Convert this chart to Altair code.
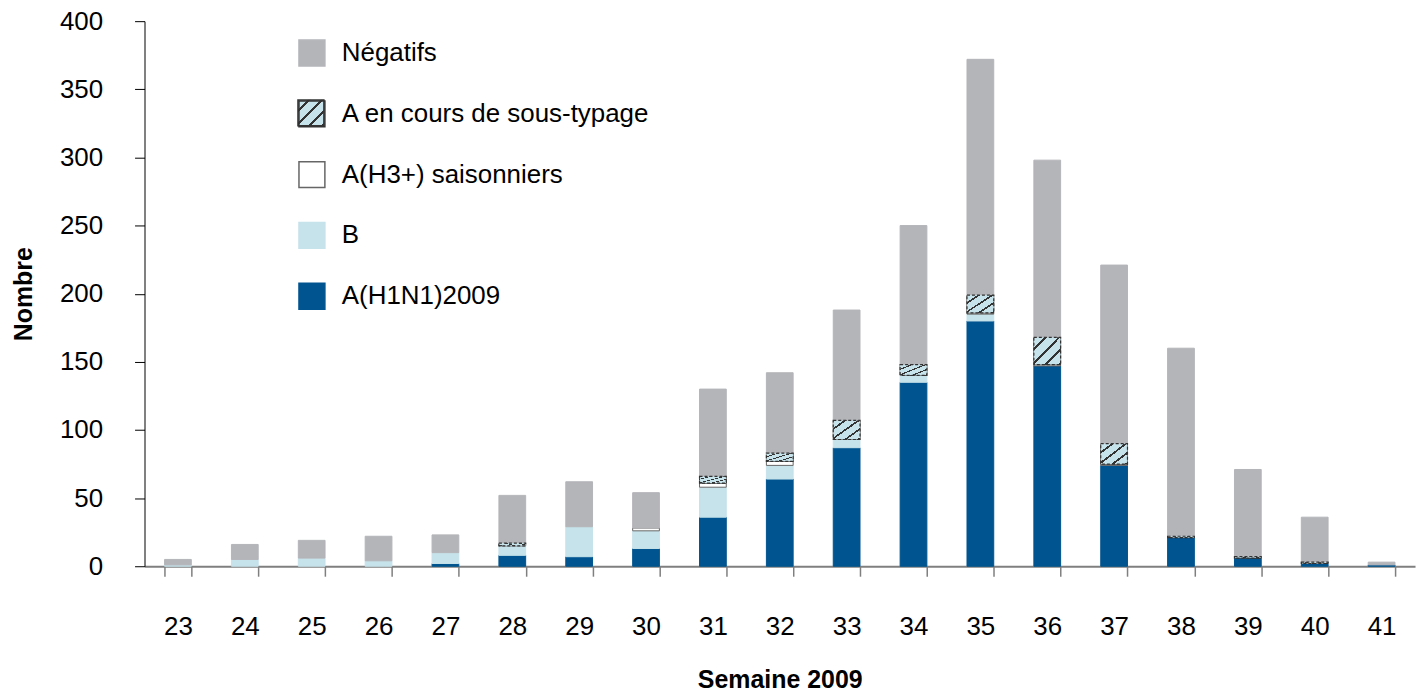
import altair as alt
import pandas as pd

# ---- data ----
weeks = [str(w) for w in range(23, 42)]
h1n1 = [0, 0, 0, 0, 2, 8, 7, 13, 36, 64, 87, 135, 180, 147, 74, 21, 6, 2, 1]
b_vals = [1, 5, 6, 4, 8, 7, 22, 13, 22, 10, 6, 5, 5, 0, 0, 0, 0, 0, 0]
h3 = [0, 0, 0, 0, 0, 0, 0, 2, 3, 3, 0, 0, 1, 1, 1, 0, 0, 0, 0]
sous_typage = [0, 0, 0, 0, 0, 2, 0, 0, 5, 6, 14, 8, 13, 20, 15, 1, 1, 1, 0]
negatifs = [4, 11, 13, 18, 13, 35, 33, 26, 64, 59, 81, 102, 173, 130, 131, 138, 64, 33, 2]

cats = ["Négatifs", "A en cours de sous-typage", "A(H3+) saisonniers", "B", "A(H1N1)2009"]

GREY = "#b4b5b9"
LB = "#c6e2ea"
DB = "#00548f"
DK = "#333333"
# hatched category: transparent in the base layer (hatch drawn by its own layer)
fills = [GREY, "rgba(0,0,0,0)", "#ffffff", LB, DB]
strokes = [GREY, DK, "#666666", LB, DB]
FONT = "Liberation Sans"

# stacking order bottom -> top
stack_order = [("A(H1N1)2009", h1n1), ("B", b_vals), ("A(H3+) saisonniers", h3),
               ("A en cours de sous-typage", sous_typage), ("Négatifs", negatifs)]
rows = []
for i, w in enumerate(weeks):
    base = 0
    for cat, vals in stack_order:
        v = vals[i]
        if v > 0:
            rows.append({"week": w, "cat": cat, "y0": base, "y1": base + v})
        base += v
df = pd.DataFrame(rows)
df_hatch = df[df["cat"] == "A en cours de sous-typage"]
df_base = df[df["cat"] != "A en cours de sous-typage"]

# hatch pattern as a hard-stop linear gradient
n = 4
stops = []
for k in range(n):
    a = k / n
    stops += [
        alt.GradientStop(offset=a, color=LB),
        alt.GradientStop(offset=a + 0.78 / n, color=LB),
        alt.GradientStop(offset=a + 0.78 / n, color=DK),
        alt.GradientStop(offset=(k + 1) / n, color=DK),
    ]
hatch = alt.Gradient(gradient="linear", stops=stops, x1=0, y1=0, x2=1, y2=1)

x_enc = alt.X(
    "week:N", sort=weeks,
    scale=alt.Scale(paddingInner=0.6, paddingOuter=0.3),
    axis=alt.Axis(title="Semaine 2009", labelAngle=0, tickBand="extent",
                  domainColor="#7f7f7f", domainWidth=2, tickColor="#7f7f7f",
                  tickWidth=1.5, tickSize=10, labelFontSize=26, labelFont=FONT,
                  labelColor="#000000", labelPadding=37,
                  titleFont=FONT, titleFontSize=25, titleFontWeight="bold",
                  titleColor="#000000", titlePadding=29),
)
y_enc = alt.Y(
    "y0:Q",
    scale=alt.Scale(domain=[0, 400], nice=False),
    axis=alt.Axis(title="Nombre", values=list(range(0, 401, 50)), grid=False,
                  domainColor="#000000", tickColor="#000000", tickSize=10,
                  labelFontSize=26, labelFont=FONT, labelColor="#000000",
                  labelPadding=32, titleFont=FONT, titleFontSize=25,
                  titleFontWeight="bold", titleColor="#000000", titlePadding=23),
)

leg = alt.Legend(title=None, orient="none", legendX=154, legendY=18,
                 symbolType="square", symbolSize=676, labelFontSize=26,
                 labelFont=FONT, labelColor="#000000", rowPadding=29,
                 labelOffset=16, padding=0, symbolStrokeWidth=1.5, labelLimit=0)

# legend-only hatch swatch, drawn first so the (transparent) legend symbol sits on it
legend_swatch = alt.Chart(pd.DataFrame({"k": [0]})).mark_rect(
    fill=hatch, stroke=DK, strokeWidth=1.5
).encode(x=alt.value(154), x2=alt.value(180), y=alt.value(79), y2=alt.value(105))

bars = alt.Chart(df).mark_bar(strokeWidth=1).encode(
    x=x_enc,
    y=y_enc,
    y2="y1:Q",
    color=alt.Color("cat:N", scale=alt.Scale(domain=cats, range=fills), legend=leg),
    stroke=alt.Stroke("cat:N", scale=alt.Scale(domain=cats, range=strokes), legend=leg),
)

hatched = alt.Chart(df_hatch).mark_bar(fill=hatch, stroke=DK, strokeWidth=1.2,
                                       strokeDash=[3, 2]).encode(
    x=alt.X("week:N", sort=weeks), y="y0:Q", y2="y1:Q"
)

chart = alt.layer(legend_swatch, bars, hatched).properties(
    width=1275, height=547,
    autosize=alt.AutoSizeParams(type="none"),
    padding={"left": 137, "top": 12, "right": 5, "bottom": 130},
).configure_view(stroke=None)

chart.save("out.html", embed_options={"renderer": "svg", "actions": False})
